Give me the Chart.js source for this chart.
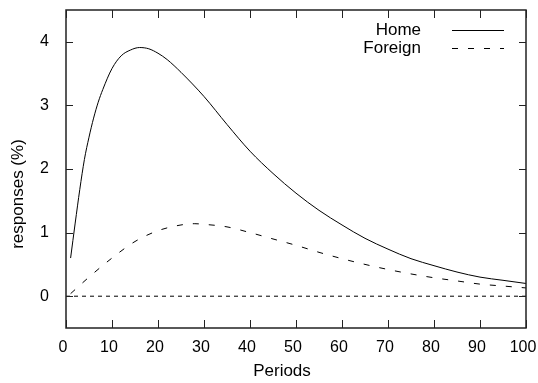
<!DOCTYPE html>
<html>
<head>
<meta charset="utf-8">
<script src="https://cdn.jsdelivr.net/npm/chart.js@4"></script>
<style>
  body { margin: 0; background: #fff; }
  canvas { display: block; }
</style>
</head>
<body>
<canvas id="myChart" width="538" height="383"></canvas>
<script>
const homePeriods = [1, 2, 3, 4, 5, 6, 7, 8, 10, 12, 14, 16, 18, 20, 22, 25, 30, 35, 40, 45, 50, 55, 60, 65, 70, 75, 80, 85, 90, 95, 100];
const homeValues = [0.60, 1.15, 1.68, 2.15, 2.50, 2.80, 3.05, 3.25, 3.58, 3.78, 3.87, 3.91, 3.89, 3.82, 3.72, 3.52, 3.14, 2.70, 2.28, 1.93, 1.62, 1.35, 1.12, 0.91, 0.74, 0.59, 0.48, 0.38, 0.30, 0.25, 0.20];

const foreignPeriods = [1, 5, 10, 15, 20, 25, 28, 30, 35, 40, 45, 50, 55, 60, 65, 70, 75, 80, 85, 90, 95, 100];
const foreignValues = [0.04, 0.30, 0.60, 0.86, 1.03, 1.12, 1.14, 1.13, 1.09, 1.00, 0.90, 0.80, 0.69, 0.59, 0.50, 0.42, 0.35, 0.29, 0.24, 0.19, 0.16, 0.13];

const xTicks = [0, 10, 20, 30, 40, 50, 60, 70, 80, 90, 100];
const yTicks = [0, 1, 2, 3, 4];

const xTitle = 'Periods';
const yTitle = 'responses (%)';

const toPoints = (xs, ys) => xs.map((x, i) => ({ x: x, y: ys[i] }));

const FONT = { family: "'Liberation Sans', Arial, sans-serif", size: 17 };
const TICK_FONT = { family: FONT.family, size: 16 };
const fontStr = FONT.size + 'px ' + FONT.family;

// gnuplot style: box all round, ticks pointing in on every side
const frameAndTicks = {
  id: 'frameAndTicks',
  afterDraw(chart) {
    const ctx = chart.ctx;
    const a = chart.chartArea;
    const xs = chart.scales.x, ys = chart.scales.y;
    ctx.save();
    ctx.strokeStyle = '#222';
    ctx.lineWidth = 1.5;
    ctx.strokeRect(a.left, a.top, a.right - a.left, a.bottom - a.top);
    ctx.lineWidth = 1;
    ctx.beginPath();
    xTicks.forEach(v => {
      const px = Math.round(xs.getPixelForValue(v)) + 0.5;
      ctx.moveTo(px, a.bottom); ctx.lineTo(px, a.bottom - 8);
      ctx.moveTo(px, a.top); ctx.lineTo(px, a.top + 8);
    });
    yTicks.forEach(v => {
      const py = Math.round(ys.getPixelForValue(v)) + 0.5;
      ctx.moveTo(a.left, py); ctx.lineTo(a.left + 7, py);
      ctx.moveTo(a.right, py); ctx.lineTo(a.right - 7, py);
    });
    ctx.stroke();
    ctx.restore();
  }
};

// axis titles - gnuplot doesn't center them on the plot box so put them by hand
const axisTitles = {
  id: 'axisTitles',
  afterDraw(chart) {
    const ctx = chart.ctx;
    ctx.save();
    ctx.font = fontStr;
    ctx.fillStyle = '#000';
    ctx.textAlign = 'center';
    ctx.textBaseline = 'middle';
    ctx.fillText(xTitle, 282, 371);
    ctx.translate(18, 194);
    ctx.rotate(-Math.PI / 2);
    ctx.fillText(yTitle, 0, 0);
    ctx.restore();
  }
};

// legend in the top right corner, text right aligned and line sample after it
const keyBox = {
  id: 'keyBox',
  afterDraw(chart) {
    const ctx = chart.ctx;
    ctx.save();
    ctx.font = fontStr;
    ctx.textAlign = 'right';
    ctx.textBaseline = 'middle';
    ctx.fillStyle = '#000';
    chart.data.datasets.slice(0, 2).forEach((ds, i) => {
      const y = 30 + i * 18;
      ctx.fillText(ds.label, 421, y);
      ctx.strokeStyle = '#000';
      ctx.lineWidth = 1;
      ctx.setLineDash(ds.borderDash || []);
      ctx.beginPath();
      ctx.moveTo(452, Math.round(y) + 0.5);
      ctx.lineTo(504, Math.round(y) + 0.5);
      ctx.stroke();
    });
    ctx.restore();
  }
};

// stop chart.js from reserving room for half labels at the ends
const noEdgePad = s => {
  s.paddingLeft = 0; s.paddingRight = 0;
  s.paddingTop = 0; s.paddingBottom = 0;
};

const data = {
  datasets: [{
    label: 'Home',
    data: toPoints(homePeriods, homeValues),
    borderColor: '#000',
    borderWidth: 1,
    pointRadius: 0,
    cubicInterpolationMode: 'monotone',
  }, {
    label: 'Foreign',
    data: toPoints(foreignPeriods, foreignValues),
    borderColor: '#000',
    borderWidth: 1,
    borderDash: [6, 10],
    pointRadius: 0,
    cubicInterpolationMode: 'monotone',
  }, {
    label: 'zero',
    data: toPoints([0, 100], [0, 0]),
    borderColor: '#000',
    borderWidth: 1,
    borderDash: [4, 4],
    pointRadius: 0,
  }]
};

const config = {
  type: 'line',
  data: data,
  options: {
    responsive: false,
    animation: false,
    layout: { padding: { top: 10, right: 12, left: 0, bottom: 0 } },
    plugins: {
      legend: { display: false },
      tooltip: { enabled: false }
    },
    scales: {
      x: {
        type: 'linear',
        min: 0,
        max: 100,
        afterBuildTicks: s => { s.ticks = xTicks.map(v => ({ value: v })); },
        afterFit: s => { s.height = 55; noEdgePad(s); },
        grid: { display: false, drawTicks: false },
        border: { display: false },
        ticks: { color: '#000', font: TICK_FONT, padding: 10, maxRotation: 0, labelOffset: -3 }
      },
      y: {
        min: -0.5,
        max: 4.5,
        afterBuildTicks: s => { s.ticks = yTicks.map(v => ({ value: v })); },
        afterFit: s => { s.width = 66; noEdgePad(s); },
        grid: { display: false, drawTicks: false },
        border: { display: false },
        ticks: { color: '#000', font: TICK_FONT, padding: 17 }
      }
    }
  },
  plugins: [frameAndTicks, axisTitles, keyBox]
};

const myChart = new Chart(
  document.getElementById('myChart'),
  config
);
</script>
</body>
</html>
